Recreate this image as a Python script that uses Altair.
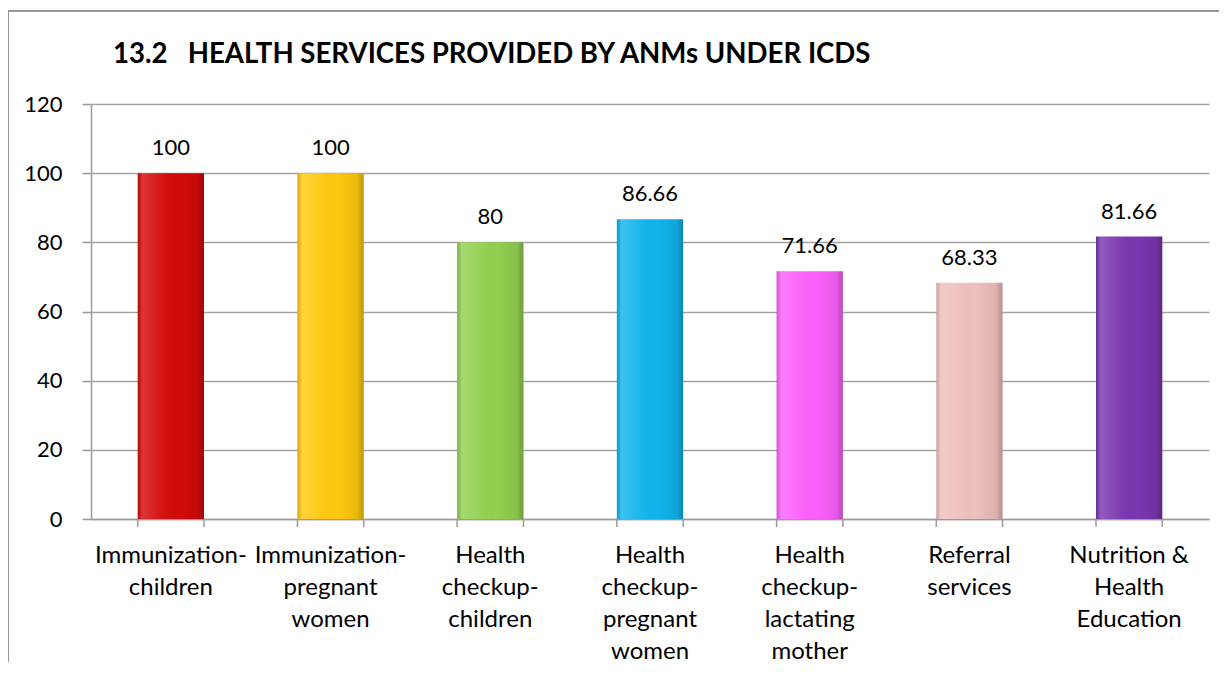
import altair as alt
import pandas as pd

categories = [
    "Immunization-\nchildren",
    "Immunization-\npregnant\nwomen",
    "Health\ncheckup-\nchildren",
    "Health\ncheckup-\npregnant\nwomen",
    "Health\ncheckup-\nlactating\nmother",
    "Referral\nservices",
    "Nutrition &\nHealth\nEducation",
]
values = [100, 100, 80, 86.66, 71.66, 68.33, 81.66]
labels = ["100", "100", "80", "86.66", "71.66", "68.33", "81.66"]
colors = ["#d40a0a", "#ffc90e", "#92d050", "#10b4ec", "#fa60fa", "#efc0be", "#7a36b0"]
title_text = "13.2\u00a0\u00a0\u00a0HEALTH SERVICES PROVIDED BY ANMs UNDER ICDS"

df = pd.DataFrame({"cat": categories, "val": values, "lab": labels})

FONT = "Lato"
W, H = 1118, 415

xscale = alt.Scale(domain=categories, paddingInner=0.585, paddingOuter=0.2925)
yscale = alt.Scale(domain=[0, 120])

x_main = alt.X(
    "cat:N", scale=xscale, sort=categories, title=None,
    axis=alt.Axis(
        labelExpr="split(datum.label, '\\n')", labelAngle=0, labelFont=FONT,
        labelFontSize=24, labelColor="black", labelLineHeight=32,
        labelBaseline="top", labelPadding=24, ticks=False, domain=True,
        domainColor="#9a9a9a", domainWidth=1.5, grid=False, labelLimit=300,
    ),
)
y_main = alt.Y(
    "val:Q", scale=yscale, title=None,
    axis=alt.Axis(
        values=[0, 20, 40, 60, 80, 100, 120], labelFont=FONT, labelFontSize=22,
        labelColor="black", labelPadding=20, tickSize=9, tickColor="#9a9a9a",
        tickWidth=1.5, domainColor="#9a9a9a", domainWidth=1.5, grid=True,
        gridColor="#a3a3a3", gridWidth=1.3,
    ),
)

base = alt.Chart(df)

bars = base.mark_bar().encode(
    x=x_main,
    y=y_main,
    color=alt.Color("cat:N", scale=alt.Scale(domain=categories, range=colors), legend=None),
)

shade = base.mark_bar(
    color=alt.Gradient(
        gradient="linear", x1=0, x2=1, y1=0, y2=0,
        stops=[
            alt.GradientStop(color="rgba(0,0,0,0.15)", offset=0),
            alt.GradientStop(color="rgba(255,255,255,0.18)", offset=0.07),
            alt.GradientStop(color="rgba(255,255,255,0.05)", offset=0.35),
            alt.GradientStop(color="rgba(0,0,0,0.0)", offset=0.6),
            alt.GradientStop(color="rgba(0,0,0,0.08)", offset=0.9),
            alt.GradientStop(color="rgba(0,0,0,0.25)", offset=1),
        ],
    )
).encode(x=alt.X("cat:N", scale=xscale, sort=categories), y=alt.Y("val:Q", scale=yscale))

text = base.mark_text(
    font=FONT, fontSize=22, color="black", baseline="alphabetic", dy=-18
).encode(x=alt.X("cat:N", scale=xscale, sort=categories), y=alt.Y("val:Q", scale=yscale), text="lab:N")

ticks_l = base.mark_rule(color="#9a9a9a", strokeWidth=1.5).encode(
    x=alt.X("cat:N", scale=xscale, sort=categories, bandPosition=0),
    y=alt.value(H), y2=alt.value(H + 8),
)
ticks_r = base.mark_rule(color="#9a9a9a", strokeWidth=1.5).encode(
    x=alt.X("cat:N", scale=xscale, sort=categories, bandPosition=1),
    y=alt.value(H), y2=alt.value(H + 8),
)

frame_top = alt.Chart(df).mark_rule(color="#999999", strokeWidth=1.5).encode(
    x=alt.value(-83), x2=alt.value(W + 10), y=alt.value(-93)
)
frame_left = alt.Chart(df).mark_rule(color="#999999", strokeWidth=1.5).encode(
    x=alt.value(-83), y=alt.value(-93), y2=alt.value(H + 143)
)

chart = (
    alt.layer(bars, shade, text, ticks_l, ticks_r, frame_top, frame_left)
    .properties(
        width=W, height=H,
        title=alt.TitleParams(
            title_text,
            anchor="start", frame="group", dx=22, offset=-80, font=FONT,
            fontSize=27.6, fontWeight="bold", color="black", baseline="alphabetic",
        ),
        autosize=alt.AutoSizeParams(type="none"),
        padding={"left": 83, "top": 96, "right": 10, "bottom": 143},
    )
    .configure_view(stroke=None)
)

chart.save("out.html", embed_options={"renderer": "svg", "actions": False})
